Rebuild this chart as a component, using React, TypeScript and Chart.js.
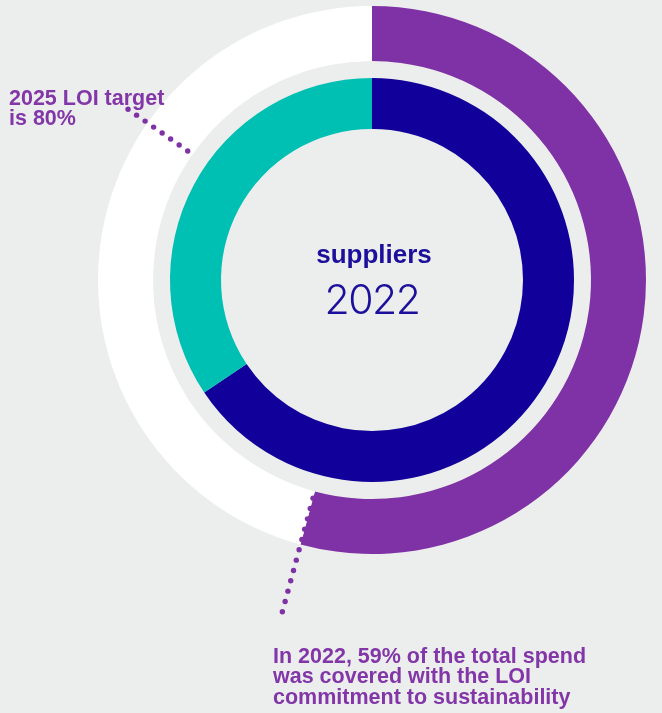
import React, { useEffect, useRef } from "react";
import { Chart, registerables } from "chart.js";

Chart.register(...registerables);

// ---- data ----
const outerLabels = ["Spend covered by LOI commitment", "Not covered"];
const outerValues = [54.2, 45.8];
const innerLabels = ["Suppliers A", "Suppliers B"];
const innerValues = [65.6, 34.4];
const centerTitle = "suppliers";
const centerYear = "2022";
const targetLabelLines = ["2025 LOI target", "is 80%"];
const spendLabelLines = [
  "In 2022, 59% of the total spend",
  "was covered with the LOI",
  "commitment to sustainability",
];
const TARGET_LEADER_DEG = 305;

// ---- styles ----
const BG = "#eceeed";
const PURPLE = "#7f31a6";
const NAVY = "#12009a";
const TEAL = "#00bfb3";
const WHITE = "#ffffff";
const TEXT_PURPLE = "#8236a8";
const TEXT_NAVY = "#1c0f9b";

const W = 662;
const H = 713;

const leaderPlugin = {
  id: "leaderDots",
  afterDatasetsDraw(chart: any) {
    const meta = chart.getDatasetMeta(0);
    const arc = meta.data[0];
    if (!arc) return;
    const { x, y, endAngle, innerRadius, outerRadius } = arc.getProps(
      ["x", "y", "endAngle", "innerRadius", "outerRadius"],
      true
    );
    const ctx = chart.ctx;
    ctx.save();
    ctx.fillStyle = PURPLE;
    const dots = (angle: number, r0: number, r1: number, step: number) => {
      for (let r = r0; r <= r1 + 0.01; r += step) {
        ctx.beginPath();
        ctx.arc(x + r * Math.cos(angle), y + r * Math.sin(angle), 2.7, 0, Math.PI * 2);
        ctx.fill();
      }
    };
    dots(endAngle, innerRadius + 7, outerRadius + 71, 10.7);
    const a2 = ((TARGET_LEADER_DEG - 90) * Math.PI) / 180;
    dots(a2, innerRadius + 6, outerRadius + 34, 10.4);
    ctx.restore();
  },
};

export default function App() {
  const ref = useRef<HTMLCanvasElement | null>(null);

  useEffect(() => {
    if (!ref.current) return;
    const chart = new Chart(ref.current, {
      type: "doughnut",
      data: {
        labels: outerLabels,
        datasets: [
          {
            data: outerValues,
            backgroundColor: [PURPLE, WHITE],
            borderWidth: 0,
            weight: 55,
          } as any,
          {
            data: [1],
            backgroundColor: ["rgba(0,0,0,0)"],
            borderWidth: 0,
            weight: 17,
          } as any,
          {
            data: innerValues,
            backgroundColor: [NAVY, TEAL],
            borderWidth: 0,
            weight: 51,
          } as any,
        ],
      },
      options: {
        responsive: false,
        animation: false,
        cutout: 151,
        hoverOffset: 0,
        offset: 0,
        layout: { padding: { left: 98, right: 16, top: 6, bottom: 159 } },
        plugins: {
          legend: { display: false },
          tooltip: { enabled: false },
        },
      } as any,
      plugins: [leaderPlugin],
    });
    return () => chart.destroy();
  }, []);

  const boldLabel: React.CSSProperties = {
    position: "absolute",
    fontFamily: "'Liberation Sans', Arial, sans-serif",
    fontWeight: 700,
    fontSize: "21.5px",
    lineHeight: "20.3px",
    color: TEXT_PURPLE,
    whiteSpace: "nowrap",
    margin: 0,
  };

  return (
    <div
      style={{
        position: "absolute",
        left: 0,
        top: 0,
        width: W,
        height: H,
        background: BG,
        overflow: "hidden",
      }}
    >
      <canvas
        ref={ref}
        width={W}
        height={H}
        style={{ position: "absolute", left: 0, top: 0, width: W, height: H }}
      />
      <div style={{ ...boldLabel, left: 9, top: 88 }}>
        {targetLabelLines.map((l, i) => (
          <div key={i}>{l}</div>
        ))}
      </div>
      <div style={{ ...boldLabel, left: 273, top: 646 }}>
        {spendLabelLines.map((l, i) => (
          <div key={i}>{l}</div>
        ))}
      </div>
      <div
        style={{
          position: "absolute",
          left: 274,
          width: 200,
          top: 241,
          textAlign: "center",
          fontFamily: "'Liberation Sans', Arial, sans-serif",
          fontWeight: 700,
          fontSize: "26px",
          lineHeight: "26px",
          color: TEXT_NAVY,
        }}
      >
        {centerTitle}
      </div>
      <div
        style={{
          position: "absolute",
          left: 272,
          width: 200,
          top: 278.6,
          textAlign: "center",
          fontFamily: "Inter, 'Open Sans', sans-serif",
          fontWeight: 300,
          fontSize: "41px",
          lineHeight: "41px",
          letterSpacing: "-1.5px",
          color: TEXT_NAVY,
        }}
      >
        {centerYear}
      </div>
    </div>
  );
}
